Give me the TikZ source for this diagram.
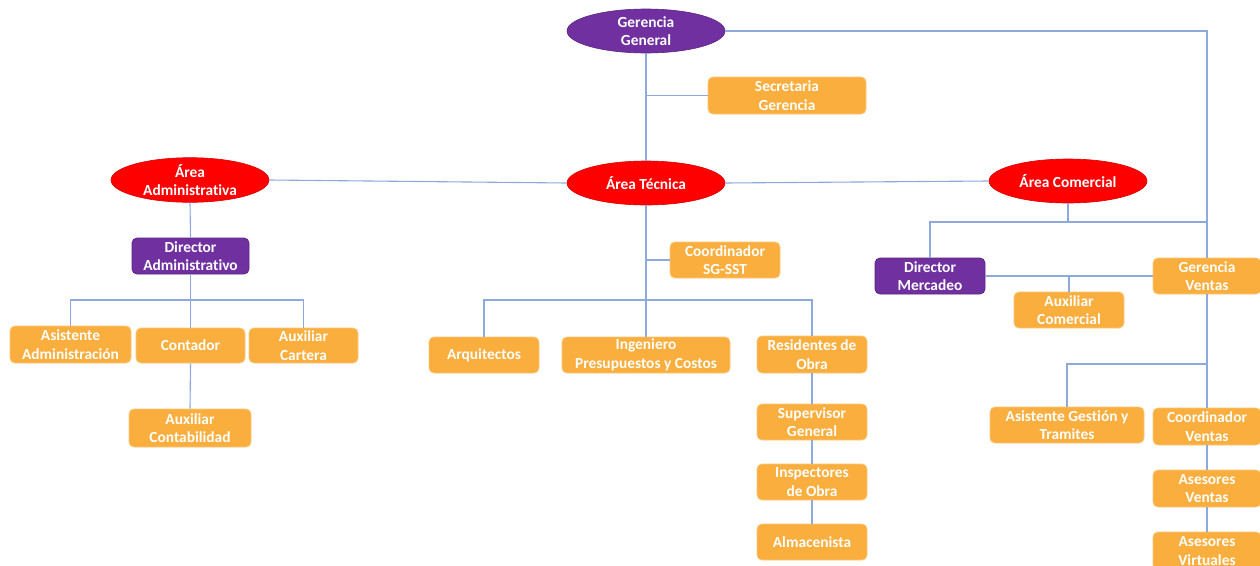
\documentclass[tikz,border=0pt]{standalone}
\usepackage{fontspec}
\setmainfont{Carlito}[Ligatures=NoCommon]
\usetikzlibrary{shapes.geometric,calc}
\definecolor{orgorange}{HTML}{F9AE3E}
\definecolor{orgpurple}{HTML}{7030A0}
\definecolor{orgred}{HTML}{FF0000}
\definecolor{linkblue}{HTML}{8EA9DB}
\tikzset{
  lbl/.style={text=white, font=\fontsize{15.4}{18.5}\selectfont\bfseries, align=center, inner sep=0pt},
  orgbox/.style={lbl, rectangle, rounded corners=5pt, fill=orgorange, draw=orgorange!70!white, line width=0.8pt},
  purplebox/.style={lbl, rectangle, rounded corners=5pt, fill=orgpurple, draw=orgpurple!80!black, line width=0.8pt},
  areaell/.style={lbl, ellipse, minimum width=158pt, minimum height=44pt, fill=orgred, draw=orgred!85!black, line width=0.6pt},
  topell/.style={areaell, fill=orgpurple, draw=orgpurple!80!black},
  link/.style={draw=linkblue, line width=1.1pt},
  sz/.style n args={2}{minimum width=#1pt, minimum height=#2pt}
}
\begin{document}
\begin{tikzpicture}[x=1pt, y=-1pt]
\useasboundingbox (0,0) rectangle (1260,565);

% top level
\node[topell] (gg) at (646,31) {Gerencia\\General};
\node[orgbox, sz={158}{37}] (sec) at (787,95.5) {Secretaria\\Gerencia};

% areas
\node[areaell] (aadm) at (190,180) {Área\\Administrativa};
\node[areaell] (atec) at (646,183) {Área Técnica};
\node[areaell] (acom) at (1068,181) {Área Comercial};

% administrative branch
\node[purplebox, sz={117}{36}] (dadm) at (190.5,256) {Director\\Administrativo};
\node[orgbox, sz={121}{37}] (asis) at (70.5,344.5) {Asistente\\Administración};
\node[orgbox, sz={109}{35}] (cont) at (190.5,345.5) {Contador};
\node[orgbox, sz={109}{35}] (acart) at (303.5,345.5) {Auxiliar\\Cartera};
\node[orgbox, sz={122}{38}] (acontab) at (190,428) {Auxiliar\\Contabilidad};

% technical branch
\node[orgbox, sz={110}{36}] (coord) at (725,260) {Coordinador\\SG-SST};
\node[orgbox, sz={110}{36}] (arq) at (484,355) {Arquitectos};
\node[orgbox, sz={168}{36}] (ing) at (646,355) {Ingeniero\\Presupuestos y Costos};
\node[orgbox, sz={110}{37}] (resid) at (812,354.5) {Residentes de\\Obra};
\node[orgbox, sz={110}{36}] (superv) at (812,422) {Supervisor\\General};
\node[orgbox, sz={110}{36}] (insp) at (812,482) {Inspectores\\de Obra};
\node[orgbox, sz={110}{36}] (alm) at (812,542) {Almacenista};

% commercial branch
\node[purplebox, sz={110}{36}] (dmerc) at (930,276) {Director\\Mercadeo};
\node[orgbox, sz={108}{36}] (gven) at (1207,276) {Gerencia\\Ventas};
\node[orgbox, sz={110}{36}] (auxcom) at (1069,310) {Auxiliar\\Comercial};
\node[orgbox, sz={154}{36}] (asisg) at (1067,425) {Asistente Gestión y\\Tramites};
\node[orgbox, sz={108}{37}] (coordv) at (1207,426.5) {Coordinador\\Ventas};
\node[orgbox, sz={108}{37}] (asev) at (1207,488.5) {Asesores\\Ventas};
\node[orgbox, sz={108}{38}] (asevir) at (1207,551) {Asesores\\Virtuales};

% bus points
\coordinate (abus) at (190,300);
\coordinate (tbus) at (646,300);
\coordinate (cbus) at (1068,222);
\coordinate (vbus) at (1207,364);

% general management
\draw[link] (gg.south) -- (atec.north);
\draw[link] (sec.west) -- (sec.west -| gg.south);
\draw[link] (gg.east) -| (gven.north);
\draw[link] (gven.south) -- (coordv.north);

% area links
\draw[link] (aadm.east) -- (atec.west);
\draw[link] (atec.east) -- (acom.west);

% administrative
\draw[link] (aadm.south) -- (dadm.north);
\draw[link] (dadm.south) -- (cont.north);
\draw[link] (asis.north) |- (abus) -| (acart.north);
\draw[link] (cont.south) -- (acontab.north);

% technical
\draw[link] (atec.south) -- (ing.north);
\draw[link] (coord.west) -- (coord.west -| atec.south);
\draw[link] (arq.north) |- (tbus) -| (resid.north);
\draw[link] (resid.south) -- (superv.north);
\draw[link] (superv.south) -- (insp.north);
\draw[link] (insp.south) -- (alm.north);

% commercial
\draw[link] (acom.south) -- (cbus);
\draw[link] (dmerc.north) |- (cbus -| gven.north);
\draw[link] (dmerc.east) -- (gven.west);
\draw[link] (auxcom.north) -- (auxcom.north |- dmerc.east);
\draw[link] (asisg.north) |- (vbus);
\draw[link] (coordv.south) -- (asev.north);
\draw[link] (asev.south) -- (asevir.north);
\end{tikzpicture}
\end{document}
